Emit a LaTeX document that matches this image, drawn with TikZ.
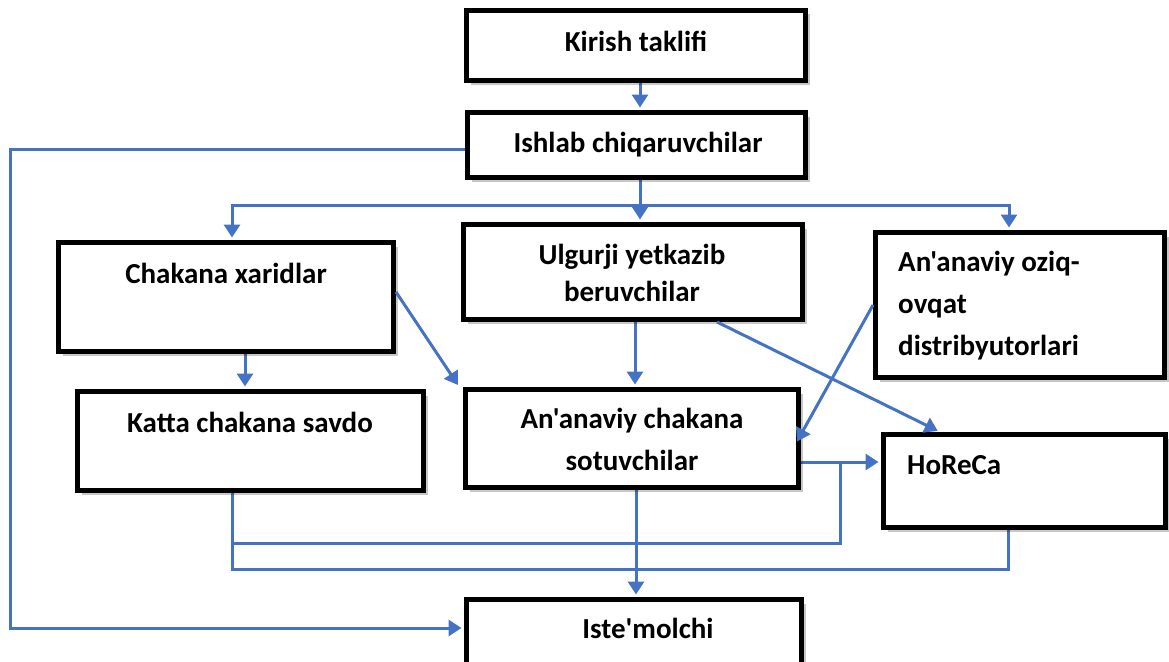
\documentclass[tikz,border=0pt]{standalone}
\usepackage{fontspec}
\setmainfont{Carlito}[Ligatures=TeXOff]
\usetikzlibrary{arrows.meta,shadows}
\definecolor{lnblue}{HTML}{4472C4}
\pgfdeclarelayer{bg}
\pgfsetlayers{bg,main}
\begin{document}
\begin{tikzpicture}[x=1pt,y=-1pt,
  box/.style={draw=black, line width=5pt, fill=white, inner sep=0pt,
    drop shadow={shadow xshift=4pt, shadow yshift=-4pt, fill=black, opacity=0.22}},
  lbl/.style={font=\fontsize{29}{42}\selectfont\bfseries, inner sep=0pt, anchor=base},
  conn/.style={draw=lnblue, line width=3pt},
  arr/.style={conn, -{Triangle[length=13pt,width=16pt]}, shorten >=2.5pt}]
\useasboundingbox (0,0) rectangle (1169,661);
\clip (0,0) rectangle (1169,661);
% boxes
\node[box, minimum width=339pt, minimum height=70pt] (kt) at (636,45.5) {};
\node[box, minimum width=338pt, minimum height=65pt] (ish) at (636.5,145) {};
\node[box, minimum width=335pt, minimum height=109pt] (cx) at (226,297) {};
\node[box, minimum width=346pt, minimum height=99pt] (kc) at (250.5,441) {};
\node[box, minimum width=339pt, minimum height=95pt] (ul) at (633,272) {};
\node[box, minimum width=333pt, minimum height=98pt] (ac) at (632,438.5) {};
\node[box, minimum width=289pt, minimum height=145pt] (dist) at (1020,305) {};
\node[box, minimum width=282pt, minimum height=93pt] (hr) at (1024.5,481) {};
\node[box, minimum width=335pt, minimum height=68pt] (cons) at (634,633.5) {};
% texts
\node[lbl] (tkt) at (636,52) {Kirish taklifi};
\node[lbl] (tish) at (638,152) {Ishlab chiqaruvchilar};
\node[lbl] (tcx) at (226,283) {Chakana xaridlar};
\node[lbl] (tkc) at (250,432) {Katta chakana savdo};
\node[lbl, align=center] (tul) at (632,301) {Ulgurji yetkazib\\[-5pt]beruvchilar};
\node[lbl, align=center] (tac) at (632,470) {An'anaviy chakana\\sotuvchilar};
\node[lbl, align=left, anchor=base west] (tdist) at (898,355) {An'anaviy oziq-\\ovqat\\distribyutorlari};
\node[lbl, anchor=base west] (thr) at (907,474) {HoReCa};
\node[lbl] (tcons) at (648,638) {Iste'molchi};
% coordinates
\coordinate (br) at (640,205);
\coordinate (lft) at (10,628);
\coordinate (j) at (840,462);
% connectors behind boxes
\begin{pgfonlayer}{bg}
\draw[arr] (kt.south -| 640,0) -- (ish.north -| 640,0);
\draw[arr] ([yshift=-4pt]ish.west) -| (lft) -- (cons.west |- lft);
\draw[conn] (ish.south -| br) -- (br);
\draw[arr] (br) -| ([xshift=6pt]cx.north);
\draw[arr] (br) -- (ul.north -| br);
\draw[arr] (br) -| ([xshift=-11pt]dist.north);
\draw[arr] ([xshift=19pt]cx.south) -- ([xshift=19pt]cx.south |- kc.north);
\draw[arr] ([xshift=2pt]ul.south) -- ([xshift=2pt]ul.south |- ac.north);
\draw[arr] (ac.east |- j) -- (hr.west |- j);
\draw[conn] (kc.south -| 232,0) |- (j |- 0,543) -- (j);
\draw[conn] (kc.south -| 232,0) -- (232,569) -| ([xshift=-16.5pt]hr.south);
\draw[arr] ([xshift=4pt]ac.south) -- ([xshift=4pt]ac.south |- cons.north);
\end{pgfonlayer}
% diagonal connectors on top
\draw[arr, shorten >=0pt] ([yshift=5pt]cx.east) -- ([xshift=-5pt,yshift=2pt]ac.north west);
\draw[arr] (ul.south -| 717,0) -- (hr.north -| 940,0);
\draw[arr, shorten >=0pt] (dist.west) -- ([xshift=-4pt,yshift=-3pt]ac.east);
\end{tikzpicture}
\end{document}
